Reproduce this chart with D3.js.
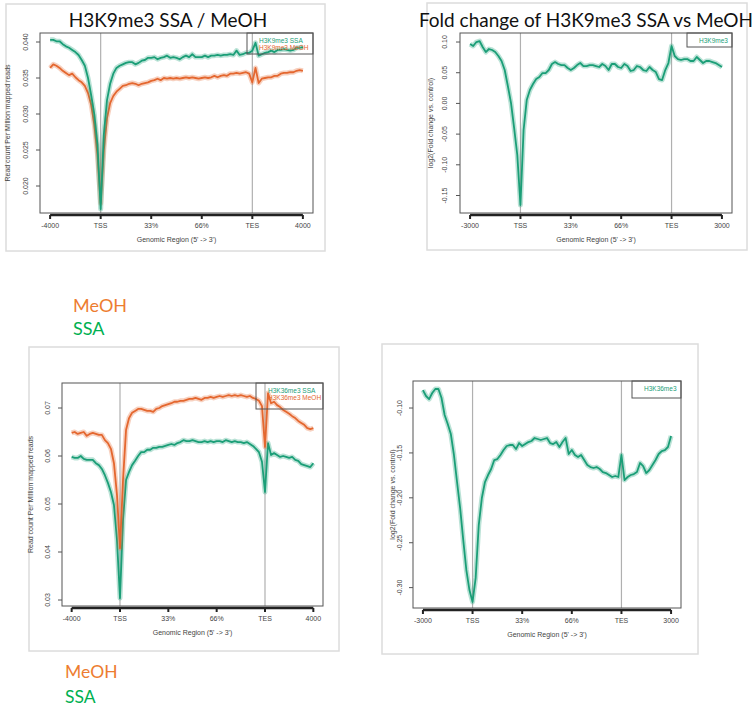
<!DOCTYPE html>
<html>
<head>
<meta charset="utf-8">
<script src="https://cdn.jsdelivr.net/npm/d3@7"></script>
<style>
body { margin: 0; background: #fff; }
svg text { font-family: "Liberation Sans", Arial, sans-serif; }
</style>
</head>
<body>
<svg id="chart" width="755" height="710"></svg>
<script>
// tick labels along the genomic region
var regionLabels4k = ["-4000", "TSS", "33%", "66%", "TES", "4000"];
var regionLabels3k = ["-3000", "TSS", "33%", "66%", "TES", "3000"];

// H3K9me3 read counts per million (81 bins, 16 per segment)
var k9SSA = [0.0403,0.0403,0.0401,0.0401,0.0397,0.0394,0.0392,0.0389,0.0386,0.0382,0.0375,0.0367,0.0350,0.0326,0.0299,0.0257,0.0168,0.0271,0.0319,0.0342,0.0356,0.0364,0.0367,0.0369,0.0371,0.0372,0.0372,0.0369,0.0371,0.0374,0.0375,0.0378,0.0378,
  0.0379,0.0376,0.0378,0.0379,0.0381,0.0378,0.0379,0.0378,0.0376,0.0379,0.0381,0.0379,0.0383,0.0379,0.0379,0.0379,0.0381,0.0379,0.0381,0.0381,0.0382,0.0381,0.0382,0.0382,0.0383,0.0382,0.0388,0.0382,0.0383,0.0385,0.0385,0.0388,0.0399,0.0381,0.0383,0.0385,0.0386,0.0388,0.0386,0.0389,0.0389,0.0390,0.0389,0.0388,0.0389,0.0392,0.0392,0.0393];
var k9MeOH = [0.0364,0.0369,0.0367,0.0364,0.0360,0.0357,0.0354,0.0356,0.0351,0.0347,0.0344,0.0339,0.0329,0.0313,0.0285,0.0243,0.0176,0.0250,0.0294,0.0315,0.0325,0.0331,0.0335,0.0339,0.0340,0.0342,0.0343,0.0342,0.0340,0.0342,0.0343,0.0344,0.0346,
  0.0347,0.0349,0.0347,0.0350,0.0349,0.0350,0.0349,0.0350,0.0349,0.0350,0.0351,0.0350,0.0351,0.0350,0.0349,0.0350,0.0351,0.0350,0.0351,0.0353,0.0351,0.0353,0.0354,0.0353,0.0356,0.0356,0.0357,0.0356,0.0357,0.0358,0.0356,0.0344,0.0364,0.0343,0.0349,0.0350,0.0351,0.0351,0.0353,0.0353,0.0356,0.0357,0.0357,0.0358,0.0358,0.0360,0.0361,0.0360];
// log2 fold change H3K9me3
var k9Fold = [0.0967,0.0935,0.1000,0.1016,0.0919,0.0837,0.0886,0.0870,0.0837,0.0772,0.0691,0.0544,0.0283,0.0007,-0.0401,-0.0840,-0.1655,-0.0433,0.0055,0.0218,0.0316,0.0397,0.0430,0.0495,0.0495,0.0544,0.0642,0.0674,0.0642,0.0625,0.0625,0.0577,0.0544,
  0.0577,0.0625,0.0658,0.0609,0.0609,0.0625,0.0625,0.0609,0.0593,0.0642,0.0609,0.0544,0.0642,0.0642,0.0593,0.0577,0.0642,0.0609,0.0528,0.0544,0.0609,0.0593,0.0544,0.0528,0.0593,0.0544,0.0511,0.0397,0.0381,0.0544,0.0658,0.0935,0.0772,0.0723,0.0707,0.0723,0.0723,0.0691,0.0691,0.0756,0.0707,0.0658,0.0691,0.0691,0.0674,0.0658,0.0625,0.0593];

// H3K36me3 read counts per million
var k36SSA = [0.0598,0.0596,0.0596,0.0600,0.0594,0.0592,0.0592,0.0592,0.0585,0.0581,0.0573,0.0560,0.0544,0.0525,0.0498,0.0425,0.0304,0.0467,0.0550,0.0567,0.0581,0.0590,0.0600,0.0608,0.0608,0.0613,0.0613,0.0617,0.0617,0.0619,0.0619,0.0621,0.0623,
  0.0625,0.0623,0.0627,0.0629,0.0633,0.0631,0.0631,0.0633,0.0631,0.0629,0.0629,0.0631,0.0629,0.0631,0.0629,0.0631,0.0631,0.0629,0.0633,0.0631,0.0629,0.0631,0.0629,0.0629,0.0627,0.0629,0.0625,0.0621,0.0615,0.0608,0.0588,0.0525,0.0627,0.0602,0.0606,0.0602,0.0598,0.0600,0.0598,0.0596,0.0598,0.0592,0.0590,0.0583,0.0581,0.0579,0.0577,0.0585];
var k36MeOH = [0.0648,0.0650,0.0646,0.0648,0.0650,0.0642,0.0646,0.0648,0.0646,0.0644,0.0644,0.0633,0.0627,0.0615,0.0585,0.0519,0.0408,0.0550,0.0654,0.0679,0.0690,0.0694,0.0698,0.0698,0.0696,0.0694,0.0694,0.0692,0.0698,0.0700,0.0704,0.0706,0.0708,
  0.0710,0.0713,0.0713,0.0715,0.0715,0.0717,0.0719,0.0719,0.0721,0.0719,0.0717,0.0721,0.0721,0.0723,0.0721,0.0723,0.0725,0.0723,0.0725,0.0727,0.0725,0.0727,0.0725,0.0727,0.0725,0.0723,0.0725,0.0721,0.0719,0.0715,0.0704,0.0619,0.0731,0.0710,0.0713,0.0706,0.0702,0.0696,0.0692,0.0688,0.0683,0.0679,0.0673,0.0669,0.0665,0.0658,0.0656,0.0658];
// log2 fold change H3K36me3
var k36Fold = [-0.0800,-0.0866,-0.0900,-0.0833,-0.0788,-0.0788,-0.0889,-0.1078,-0.1178,-0.1290,-0.1523,-0.1824,-0.2114,-0.2470,-0.2804,-0.3027,-0.3160,-0.2893,-0.2303,-0.2002,-0.1824,-0.1746,-0.1679,-0.1579,-0.1568,-0.1523,-0.1468,-0.1423,-0.1412,-0.1412,-0.1457,-0.1390,-0.1423,
  -0.1401,-0.1379,-0.1367,-0.1334,-0.1345,-0.1356,-0.1345,-0.1334,-0.1390,-0.1401,-0.1379,-0.1434,-0.1379,-0.1334,-0.1512,-0.1468,-0.1523,-0.1546,-0.1523,-0.1579,-0.1635,-0.1657,-0.1668,-0.1657,-0.1679,-0.1713,-0.1724,-0.1746,-0.1768,-0.1757,-0.1768,-0.1523,-0.1802,-0.1768,-0.1746,-0.1735,-0.1713,-0.1612,-0.1646,-0.1724,-0.1690,-0.1635,-0.1579,-0.1512,-0.1479,-0.1468,-0.1434,-0.1312];

var k9CountTicks = [0.020, 0.025, 0.030, 0.035, 0.040];
var k9FoldTicks = [-0.15, -0.10, -0.05, 0.00, 0.05, 0.10];
var k36CountTicks = [0.03, 0.04, 0.05, 0.06, 0.07];
var k36FoldTicks = [-0.30, -0.25, -0.20, -0.15, -0.10];

var green = "#1b9e77", orange = "#e4672f";
var svg = d3.select("#chart");

function drawPanel(p) {
    var g = svg.append("g");
    g.append("rect")
        .attr("x", p.frame[0]).attr("y", p.frame[1])
        .attr("width", p.frame[2] - p.frame[0]).attr("height", p.frame[3] - p.frame[1])
        .attr("fill", "none").attr("stroke", "#dcdcdc").attr("stroke-width", 1.5);

    var x = d3.scaleLinear().domain([-0.2, 5.2]).range([p.box[0], p.box[1]]);
    var y = d3.scaleLinear().domain(p.yDomain).range([p.box[3], p.box[2]]);

    // TSS / TES guides
    [1, 4].forEach(function (t) {
        g.append("line")
            .attr("x1", x(t)).attr("x2", x(t))
            .attr("y1", p.box[2]).attr("y2", p.box[3])
            .attr("stroke", "#b0b0b0").attr("stroke-width", 1.2);
    });

    var line = d3.line()
        .x(function (d, i) { return x(i / 16); })
        .y(function (d) { return y(d); });

    p.series.forEach(function (s) {
        g.append("path").datum(s.values)
            .attr("d", line).attr("fill", "none")
            .attr("stroke", s.color).attr("stroke-opacity", 0.3)
            .attr("stroke-width", 5).attr("stroke-linejoin", "round");
        g.append("path").datum(s.values)
            .attr("d", line).attr("fill", "none")
            .attr("stroke", s.color).attr("stroke-width", 1.8)
            .attr("stroke-linejoin", "round");
    });

    g.append("rect")
        .attr("x", p.box[0]).attr("y", p.box[2])
        .attr("width", p.box[1] - p.box[0]).attr("height", p.box[3] - p.box[2])
        .attr("fill", "none").attr("stroke", "#555").attr("stroke-width", 1);

    // x axis, thick as in ngs.plot
    var xa = g.append("g").attr("transform", "translate(0," + (p.box[3] + 2) + ")");
    xa.append("line")
        .attr("x1", x(0)).attr("x2", x(5))
        .attr("stroke", "#222").attr("stroke-width", 2.5);
    p.xLabels.forEach(function (lab, i) {
        xa.append("line")
            .attr("x1", x(i)).attr("x2", x(i)).attr("y1", 0).attr("y2", 4)
            .attr("stroke", "#222").attr("stroke-width", 2);
        xa.append("text")
            .attr("x", x(i)).attr("y", 13)
            .attr("text-anchor", "middle").attr("font-size", 7).attr("fill", "#444")
            .text(lab);
    });
    g.append("text")
        .attr("x", (p.box[0] + p.box[1]) / 2).attr("y", p.box[3] + 29)
        .attr("text-anchor", "middle").attr("font-size", 7).attr("fill", "#444")
        .text("Genomic Region (5' -> 3')");

    // y axis, R style rotated labels
    p.yTicks.forEach(function (t) {
        g.append("line")
            .attr("x1", p.box[0] - 4).attr("x2", p.box[0])
            .attr("y1", y(t)).attr("y2", y(t))
            .attr("stroke", "#555").attr("stroke-width", 1);
        g.append("text")
            .attr("transform", "translate(" + (p.box[0] - p.tickGap) + "," + y(t) + ") rotate(-90)")
            .attr("text-anchor", "middle").attr("font-size", 7).attr("fill", "#444")
            .text(d3.format(p.fmt)(t).replace("−", "-"));
    });
    g.append("text")
        .attr("transform", "translate(" + (p.box[0] - p.titleGap) + "," + ((p.box[2] + p.box[3]) / 2) + ") rotate(-90)")
        .attr("text-anchor", "middle").attr("font-size", 7).attr("fill", "#444")
        .text(p.yTitle);

    // legend box in the top right corner
    var lg = p.legend;
    g.append("rect")
        .attr("x", lg.x).attr("y", p.box[2])
        .attr("width", p.box[1] - lg.x).attr("height", lg.h)
        .attr("fill", "none").attr("stroke", "#555").attr("stroke-width", 1);
    lg.items.forEach(function (it, i) {
        g.append("text")
            .attr("x", lg.x + 12).attr("y", p.box[2] + 9.5 + i * 7.5)
            .attr("font-size", 6.5).attr("fill", it.color)
            .text(it.name);
    });

    if (p.title) {
        svg.append("text")
            .attr("x", p.title.x).attr("y", p.title.y)
            .attr("text-anchor", "middle")
            .style("font-family", "Lato, 'Open Sans', sans-serif")
            .attr("font-size", 19).attr("fill", "#111")
            .text(p.title.text);
    }
}

drawPanel({
    frame: [6, 4, 325, 251], box: [40, 313, 33, 213],
    yDomain: [0.01625, 0.04125], yTicks: k9CountTicks, fmt: ".3f",
    xLabels: regionLabels4k, tickGap: 12, titleGap: 30,
    yTitle: "Read count Per Million mapped reads",
    series: [{values: k9MeOH, color: orange}, {values: k9SSA, color: green}],
    legend: {x: 247, h: 21, items: [{name: "H3K9me3 SSA", color: green}, {name: "H3K9me3 MeOH", color: orange}]},
    title: {text: "H3K9me3 SSA / MeOH", x: 168, y: 27}
});
drawPanel({
    frame: [427, 3, 747, 250], box: [460, 732, 33, 213],
    yDomain: [-0.1785, 0.1147], yTicks: k9FoldTicks, fmt: ".2f",
    xLabels: regionLabels3k, tickGap: 13, titleGap: 27,
    yTitle: "log2(Fold change vs. control)",
    series: [{values: k9Fold, color: green}],
    legend: {x: 687, h: 14, items: [{name: "H3K9me3", color: green}]},
    title: {text: "Fold change of H3K9me3 SSA vs MeOH", x: 586, y: 27}
});
drawPanel({
    frame: [29, 347, 339, 651], box: [62, 323, 383, 606],
    yDomain: [0.02875, 0.07521], yTicks: k36CountTicks, fmt: ".2f",
    xLabels: regionLabels4k, tickGap: 12, titleGap: 29,
    yTitle: "Read count Per Million mapped reads",
    series: [{values: k36SSA, color: green}, {values: k36MeOH, color: orange}],
    legend: {x: 256, h: 26, items: [{name: "H3K36me3 SSA", color: green}, {name: "H3K36me3 MeOH", color: orange}]}
});
drawPanel({
    frame: [382, 344, 698, 654], box: [413, 681, 381, 608],
    yDomain: [-0.3227, -0.0699], yTicks: k36FoldTicks, fmt: ".2f",
    xLabels: regionLabels3k, tickGap: 11, titleGap: 18,
    yTitle: "log2(Fold change vs. control)",
    series: [{values: k36Fold, color: green}],
    legend: {x: 632, h: 17, items: [{name: "H3K36me3", color: green}]}
});

// sample colour keys
var keys = [
    {name: "MeOH", color: "#ed7d31", x: 73, y: 312, size: 18},
    {name: "SSA", color: "#00b050", x: 73, y: 335, size: 18},
    {name: "MeOH", color: "#ed7d31", x: 65, y: 678, size: 17.5},
    {name: "SSA", color: "#00b050", x: 65, y: 703, size: 17.5}
];
svg.selectAll("text.key").data(keys).enter().append("text")
    .attr("class", "key")
    .attr("x", function (d) { return d.x; })
    .attr("y", function (d) { return d.y; })
    .style("font-family", "Lato, 'Open Sans', sans-serif")
    .attr("font-size", function (d) { return d.size; })
    .attr("fill", function (d) { return d.color; })
    .text(function (d) { return d.name; });
</script>
</body>
</html>
